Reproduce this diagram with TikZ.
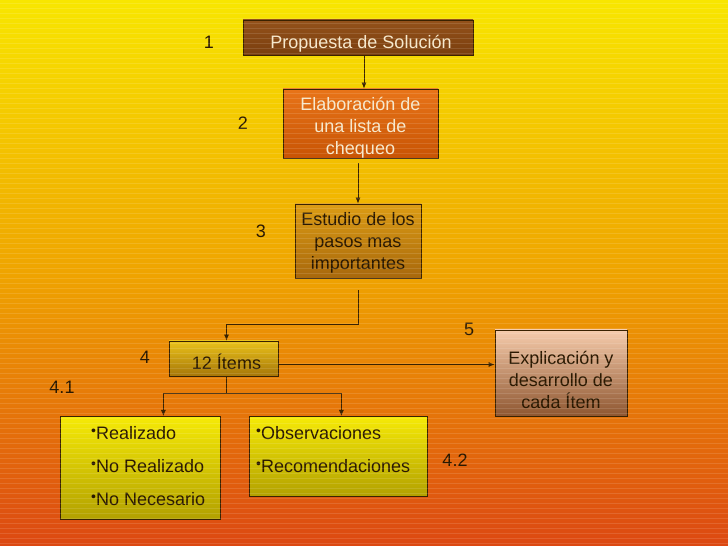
\documentclass[tikz,border=0pt]{standalone}
\usepackage{fontspec}
\setmainfont{Liberation Sans}
\usetikzlibrary{arrows.meta}

\definecolor{bgtop}{HTML}{F8E600}
\definecolor{bgmid}{HTML}{EFA400}
\definecolor{bgbot}{HTML}{DC4812}
\definecolor{edge}{HTML}{3A2200}
\definecolor{darktext}{HTML}{2A1800}
\definecolor{lighttext}{HTML}{F6E8CC}

\newcommand{\itm}{{\fontsize{14}{14}\selectfont\raisebox{4pt}{•}}}

\begin{document}
\begin{tikzpicture}[x=1pt, y=1pt, >={Latex[length=6pt,width=5pt]},
  every node/.style={font=\fontsize{18}{22}\selectfont},
  box/.style={draw=edge, line width=0.8pt, inner sep=0pt, align=center},
  oneline/.style={text height=24pt, text depth=2.5pt},
  num/.style={text=darktext},
  listtext/.style={anchor=north west, align=left, inner sep=0pt, text=darktext,
    font=\fontsize{18}{33}\selectfont},
  arr/.style={->, draw=edge, line width=0.8pt}]
  % Background
  \useasboundingbox (0,0) rectangle (728,546);
  \shade[top color=bgtop, bottom color=bgbot, middle color=bgmid] (0,0) rectangle (728,546);

  % Steps
  \node (prop) [box, oneline, minimum width=230pt, minimum height=35pt, text=lighttext,
    top color={rgb,255:red,148;green,82;blue,26}, bottom color={rgb,255:red,122;green,62;blue,14}]
    at (358,508.5) {\hspace*{6pt}Propuesta de Solución};
  \node (elab) [box, text height=66pt, text depth=3pt, minimum width=155pt, minimum height=69pt, text=lighttext,
    top color={rgb,255:red,232;green,116;blue,24}, bottom color={rgb,255:red,200;green,84;blue,4}]
    at (360.5,422.5) {Elaboración de\\una lista de\\chequeo};
  \node (est) [box, text height=61pt, text depth=3pt, minimum width=126pt, minimum height=74pt, text=darktext,
    top color={rgb,255:red,220;green,156;blue,20}, bottom color={rgb,255:red,168;green,104;blue,12}]
    at (358,305) {Estudio de los\\pasos mas\\importantes};
  \node (items) [box, oneline, minimum width=109pt, minimum height=35pt, text=darktext,
    top color={rgb,255:red,234;green,194;blue,26}, bottom color={rgb,255:red,166;green,118;blue,8}]
    at (223.5,187.5) {\hspace*{6pt}12 Ítems};
  \node (expl) [box, text height=75pt, text depth=3pt, minimum width=132pt, minimum height=86pt, text=darktext,
    top color={rgb,255:red,246;green,204;blue,172}, bottom color={rgb,255:red,142;green,86;blue,48}]
    at (561,173) {Explicación y\\desarrollo de\\cada Ítem};

  % Lists under 12 Items
  \node (real) [box, minimum width=160pt, minimum height=103pt, anchor=north west,
    top color={rgb,255:red,246;green,234;blue,6}, bottom color={rgb,255:red,178;green,160;blue,0}]
    at (60,130) {};
  \node (realtext) [listtext] at (91,120) {\itm Realizado\\\itm No Realizado\\\itm No Necesario};
  \node (obs) [box, minimum width=178pt, minimum height=80pt, anchor=north west,
    top color={rgb,255:red,246;green,234;blue,6}, bottom color={rgb,255:red,178;green,160;blue,0}]
    at (249,130) {};
  \node (obstext) [listtext] at (256,120) {\itm Observaciones\\\itm Recomendaciones};

  % Numbers
  \node (n1) [num] at (209,504) {1};
  \node (n2) [num] at (243,423) {2};
  \node (n3) [num] at (261,315) {3};
  \node (n4) [num] at (145,189) {4};
  \node (n41) [num] at (62,159) {4.1};
  \node (n5) [num] at (469,217) {5};
  \node (n42) [num] at (455,86) {4.2};

  % Connectors
  \draw[arr] ([xshift=6pt]prop.south) -- ([xshift=6pt]prop.south |- elab.north);
  \draw[arr] ([yshift=-5pt]elab.south -| est.north) -- (est.north);
  \coordinate (turn) at (358,222);
  \draw[arr] ([yshift=-12pt]est.south) -- (turn) -| ([xshift=3pt]items.north);
  \draw[arr] ([yshift=-6pt]items.east) -- ([yshift=-6pt]items.east -| expl.west);
  \coordinate (split) at (226.5,153);
  \draw[draw=edge, line width=0.8pt] ([xshift=3pt]items.south) -- (split);
  \draw[arr] (split) -| ([xshift=23pt]real.north);
  \draw[arr] (split) -| ([xshift=3pt]obs.north);

  % Stripes
  \foreach \y in {3,8,...,543}
    \draw[white, opacity=0.12, line width=0.7pt] (0,\y) -- (728,\y);
\end{tikzpicture}
\end{document}
